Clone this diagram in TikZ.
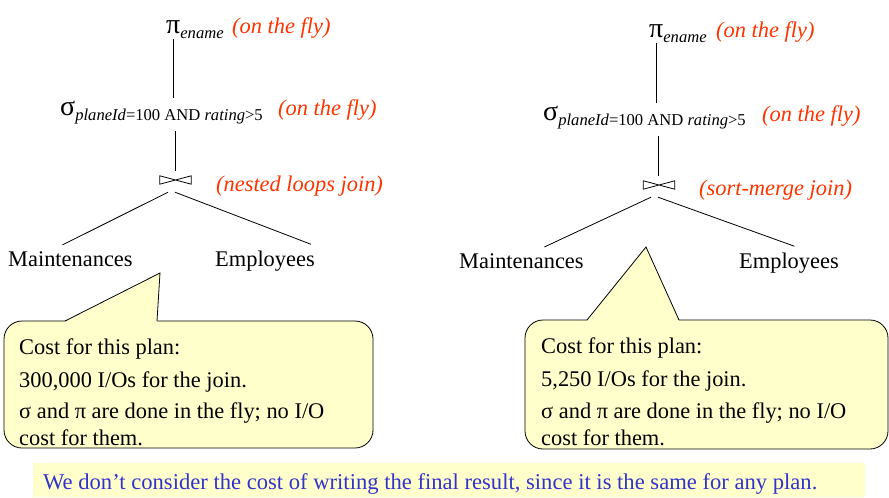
\documentclass[tikz,border=0pt]{standalone}
\usepackage{fontspec}
\setmainfont{Liberation Serif}[ItalicFont={Liberation Serif Italic},BoldFont={Liberation Serif Bold}]
\usetikzlibrary{calc}
\definecolor{redlab}{RGB}{255,51,0}
\definecolor{bluetxt}{RGB}{51,51,204}
\definecolor{calloutfill}{RGB}{255,255,204}
\newcommand{\lowsub}[1]{\raisebox{-5.5pt}{\fontsize{16.6}{17}\selectfont #1}}
\newcommand{\bigsym}[1]{{\fontsize{28}{28}\selectfont #1}}
\tikzset{
  txt/.style={anchor=base west, inner sep=0pt, font=\fontsize{22.4}{26}\selectfont},
  lab/.style={anchor=base west, inner sep=0pt, text=redlab, font=\fontsize{22.4}{26}\selectfont\itshape},
  note/.style={anchor=base west, inner sep=0pt, text=bluetxt, font=\fontsize{22.6}{26}\selectfont},
  callout/.style={draw=black, fill=calloutfill, line width=0.8pt, rounded corners=18pt},
  ptr/.style={fill=calloutfill},
  ptredge/.style={draw=black, line width=0.8pt, line join=miter},
  edge/.style={line width=0.8pt},
  joinbox/.style={minimum width=31pt, minimum height=8pt, inner sep=0pt},
  bow/.style={line width=0.8pt},
}
\begin{document}
\begin{tikzpicture}[x=1pt,y=-1pt]
\useasboundingbox (0,0) rectangle (889,498);

% ---------------- left plan ----------------
\node[txt] (piL) at (166,33) {\bigsym{π}\lowsub{\itshape ename}};
\node[lab] (fly1L) at (232,33) {(on the fly)};
\node[txt] (sigL) at (60,115) {\bigsym{σ}\lowsub{\itshape planeId\upshape=100 AND \itshape rating\upshape>5}};
\node[lab] (fly2L) at (278,115) {(on the fly)};
\node[joinbox] (joinL) at (175.5,180) {};
\draw[bow] (joinL.north west) -- (joinL.south west) -- (joinL.north east) -- (joinL.south east) -- cycle;
\node[lab] (jlabL) at (216,191) {(nested loops join)};
\node[txt] (mL) at (8,266) {Maintenances};
\node[txt] (eL) at (215,266) {Employees};
\draw[edge] ($(joinL |- piL.south)+(-2,0)$) -- ($(joinL |- sigL.north)+(-2,-2)$);
\draw[edge] ($(sigL.south -| joinL)+(0,7)$) -- ($(joinL.north)+(0,-5)$);
\draw[edge] ($(joinL.south)+(-7.5,8)$) -- ($(mL.north)+(-8,-6)$);
\draw[edge] ($(joinL.south)+(-0.5,8)$) -- ($(eL.north east)+(-4,-6)$);

% ---------------- right plan ----------------
\node[txt] (piR) at (649,37) {\bigsym{π}\lowsub{\itshape ename}};
\node[lab] (fly1R) at (716,37) {(on the fly)};
\node[txt] (sigR) at (543,120) {\bigsym{σ}\lowsub{\itshape planeId\upshape=100 AND \itshape rating\upshape>5}};
\node[lab] (fly2R) at (762,121) {(on the fly)};
\node[joinbox] (joinR) at (659,185) {};
\draw[bow] (joinR.north west) -- (joinR.south west) -- (joinR.north east) -- (joinR.south east) -- cycle;
\node[lab] (jlabR) at (699,195) {(sort-merge join)};
\node[txt] (mR) at (459,268) {Maintenances};
\node[txt] (eR) at (739,268) {Employees};
\draw[edge] ($(joinR |- piR.south)+(-3,0)$) -- ($(joinR |- sigR.north)+(-3,-2)$);
\draw[edge] ($(sigR.south -| joinR)+(-1,7)$) -- ($(joinR.north)+(-1,-5)$);
\draw[edge] ($(joinR.south)+(-8,8)$) -- ($(mR.north)+(23,-6)$);
\draw[edge] ($(joinR.south)+(-1,8)$) -- ($(eR.north)+(5.5,-6)$);

% ---------------- callouts ----------------
\draw[callout] (4,321) rectangle (373,448);
\coordinate (tipL) at (160,273);
\fill[ptr] (65,322) -- (tipL) -- (157,322) -- cycle;
\draw[ptredge] (65,321) -- (tipL) -- (157,321);
\node[txt] (c1L) at (19,354) {Cost for this plan:};
\node[txt] (c2L) at (19,387) {300,000 I/Os for the join.};
\node[txt] (c3L) at (19,418) {σ and π are done in the fly; no I/O};
\node[txt] (c4L) at (19,445) {cost for them.};

\draw[callout] (525,320) rectangle (888,449);
\coordinate (tipR) at (646,247);
\fill[ptr] (587,321) -- (tipR) -- (679,321) -- cycle;
\draw[ptredge] (587,320) -- (tipR) -- (679,320);
\node[txt] (c1R) at (541,353) {Cost for this plan:};
\node[txt] (c2R) at (541,386) {5,250 I/Os for the join.};
\node[txt] (c3R) at (541,418) {σ and π are done in the fly; no I/O};
\node[txt] (c4R) at (541,445) {cost for them.};

% ---------------- bottom note ----------------
\fill[calloutfill] (33,463) rectangle (865,497);
\node[note] (noteB) at (43,489) {We don’t consider the cost of writing the final result, since it is the same for any plan.};
\end{tikzpicture}
\end{document}
